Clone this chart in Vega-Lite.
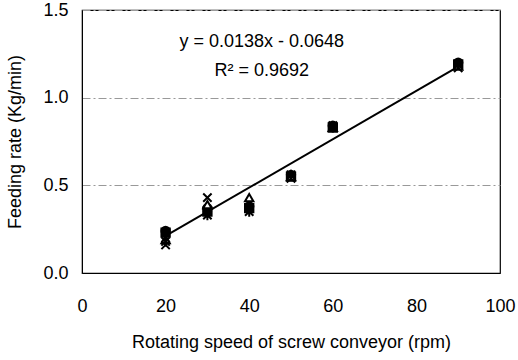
{
  "$schema": "https://vega.github.io/schema/vega-lite/v6.json",
  "width": 418,
  "height": 263,
  "autosize": {"type": "none"},
  "padding": {"left": 82, "top": 10, "right": 18, "bottom": 87},
  "background": "white",
  "config": {
    "font": "Liberation Sans",
    "view": {"stroke": "black", "strokeWidth": 1.2},
    "axis": {"labelFont": "Liberation Sans", "titleFont": "Liberation Sans", "labelFontSize": 18, "titleFontSize": 18, "labelColor": "black", "titleColor": "black", "titleFontWeight": "normal", "domainColor": "black", "ticks": false, "labelFlush": false}
  },
  "datasets": {
    "pts": [
      {"speed": 20, "rate": 0.24, "series": "A"}, {"speed": 30, "rate": 0.37, "series": "A"}, {"speed": 40, "rate": 0.38, "series": "A"}, {"speed": 50, "rate": 0.56, "series": "A"}, {"speed": 60, "rate": 0.84, "series": "A"}, {"speed": 90, "rate": 1.20, "series": "A"},
      {"speed": 20, "rate": 0.23, "series": "B"}, {"speed": 30, "rate": 0.35, "series": "B"}, {"speed": 40, "rate": 0.37, "series": "B"}, {"speed": 50, "rate": 0.55, "series": "B"}, {"speed": 60, "rate": 0.83, "series": "B"}, {"speed": 90, "rate": 1.19, "series": "B"},
      {"speed": 20, "rate": 0.19, "series": "C"}, {"speed": 30, "rate": 0.39, "series": "C"}, {"speed": 40, "rate": 0.43, "series": "C"}, {"speed": 50, "rate": 0.55, "series": "C"}, {"speed": 60, "rate": 0.83, "series": "C"}, {"speed": 90, "rate": 1.18, "series": "C"},
      {"speed": 20, "rate": 0.16, "series": "D"}, {"speed": 30, "rate": 0.43, "series": "D"}, {"speed": 40, "rate": 0.37, "series": "D"}, {"speed": 50, "rate": 0.54, "series": "D"}, {"speed": 60, "rate": 0.84, "series": "D"}, {"speed": 90, "rate": 1.17, "series": "D"},
      {"speed": 20, "rate": 0.18, "series": "E"}, {"speed": 30, "rate": 0.33, "series": "E"}, {"speed": 40, "rate": 0.35, "series": "E"}, {"speed": 50, "rate": 0.56, "series": "E"}, {"speed": 60, "rate": 0.83, "series": "E"}, {"speed": 90, "rate": 1.19, "series": "E"}
    ],
    "fit": [{"speed": 20, "rate": 0.2112}, {"speed": 90, "rate": 1.1772}],
    "eq": [{"speed": 43, "rate": 1.32, "label": "y = 0.0138x - 0.0648"}, {"speed": 43, "rate": 1.15, "label": "R² = 0.9692"}]
  },
  "encoding": {
    "x": {"field": "speed", "type": "quantitative", "scale": {"domain": [0, 100], "nice": false, "zero": false}, "axis": {"values": [0, 20, 40, 60, 80, 100], "grid": false, "title": "Rotating speed of screw conveyor (rpm)", "labelPadding": 24, "titlePadding": 18}},
    "y": {"field": "rate", "type": "quantitative", "scale": {"domain": [0, 1.5], "nice": false, "zero": false}, "axis": {"values": [0, 0.5, 1.0, 1.5], "format": ".1f", "grid": true, "gridColor": "#999", "gridDash": [8, 3, 2, 3], "gridWidth": 1, "title": "Feeding rate (Kg/min)", "labelPadding": 14, "titlePadding": 18}}
  },
  "layer": [
    {
      "data": {"name": "fit"},
      "mark": {"type": "line", "color": "black", "strokeWidth": 2}
    },
    {
      "data": {"name": "pts"},
      "mark": {"type": "point", "stroke": "black", "strokeWidth": 2, "size": 70, "opacity": 1},
      "encoding": {
        "shape": {"field": "series", "type": "nominal", "legend": null, "scale": {"domain": ["A", "B", "C", "D", "E"], "range": ["circle", "square", "triangle-up", "M-1,-1L1,1M1,-1L-1,1", "M-1,-1L1,1M1,-1L-1,1M0,-1.2L0,1.2"]}},
        "fill": {"field": "series", "type": "nominal", "legend": null, "scale": {"domain": ["A", "B", "C", "D", "E"], "range": ["black", "black", "white", "none", "none"]}},
        "fillOpacity": {"value": 1}
      }
    },
    {
      "data": {"name": "eq"},
      "mark": {"type": "text", "font": "Liberation Sans", "fontSize": 18, "color": "black", "align": "center", "baseline": "middle"},
      "encoding": {
        "text": {"field": "label"}
      }
    }
  ]
}
